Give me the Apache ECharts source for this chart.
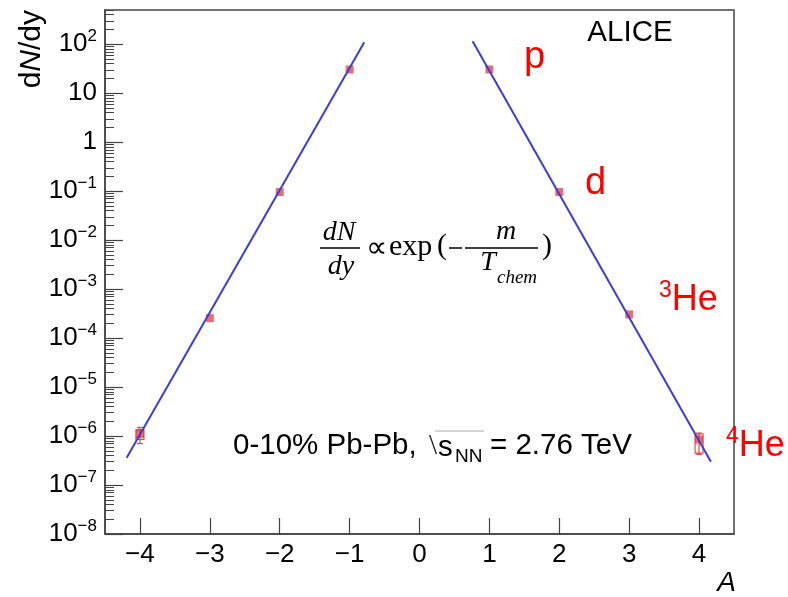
<!DOCTYPE html>
<html><head><meta charset="utf-8">
<script src="https://cdn.jsdelivr.net/npm/echarts@6/dist/echarts.min.js"></script>
<style>html,body{margin:0;padding:0;background:#fff}#chart{width:788px;height:597px}</style>
</head><body><div id="chart"></div>
<script>
// Mass number A (negative = anti-nuclei) and measured dN/dy
const massNumbers = [-4, -3, -2, -1, 1, 2, 3, 4];
const yields = [1.1e-6, 2.55e-4, 0.096, 30.5, 30.5, 0.096, 3.05e-4, 0.85e-6];

// Uncertainties on the (anti-)4He points
const errA = [-4, 4];
const statLow = [0.7e-6, 0.42e-6];
const statHigh = [1.5e-6, 1.15e-6];
const sysLow = [0.85e-6, 0.45e-6];
const sysHigh = [1.35e-6, 1.1e-6];

// Exponential fits (straight lines on the log scale)
const fitLeftA = [-4.19, -0.79];
const fitLeftY = [3.6e-7, 110];
const fitRightA = [0.76, 4.17];
const fitRightY = [115, 3.0e-7];

// Axis ticks
const xTicks = [-4, -3, -2, -1, 0, 1, 2, 3, 4];
const yMajor = [1e-8, 1e-7, 1e-6, 1e-5, 1e-4, 1e-3, 1e-2, 1e-1, 1, 10, 100];
const yMax = 500;
const yMinor = [];
for (let n = -8; n <= 2; n++) {
  for (let k = 2; k <= 9; k++) {
    const v = k * Math.pow(10, n);
    if (v <= yMax) yMinor.push(v);
  }
}

const FONT = 'Liberation Sans';
const SERIF = 'Liberation Serif';
const RED = '#ff0000';
const MARK = 'rgba(225,40,40,0.85)';
const BLUE = '#3c3cd8';

function powLabel(v) {
  const e = Math.round(Math.log10(v));
  if (e === 0) return '{b|1}';
  if (e === 1) return '{b|10}';
  return '{b|10}{s|' + (e < 0 ? '\u2212' + (-e) : e) + '}';
}

function txt(x, y, text, size, opts) {
  return { type: 'text', x: x, y: y, style: Object.assign({
    text: text, fontSize: size, fontFamily: FONT, fill: '#000', align: 'left', verticalAlign: 'middle'
  }, opts || {}) };
}

const chart = echarts.init(document.getElementById('chart'));
chart.setOption({
  animation: false,
  backgroundColor: '#fff',
  grid: { left: 105, right: 54, top: 10, bottom: 63, show: true, borderColor: '#444', borderWidth: 1.5, outerBoundsMode: 'none' },
  xAxis: {
    type: 'value', min: -4.5, max: 4.5,
    splitLine: { show: false },
    axisLine: { onZero: false, lineStyle: { color: '#444', width: 1.5 } },
    axisTick: { inside: true, length: 16, customValues: xTicks, lineStyle: { color: '#444', width: 1.2 } },
    axisLabel: { customValues: xTicks, color: '#000', fontFamily: FONT, fontSize: 26, margin: 8,
      formatter: v => (v < 0 ? '\u2212' + (-v) : '' + v) }
  },
  yAxis: [{
    type: 'log', logBase: 10, min: 1e-8, max: yMax,
    splitLine: { show: false },
    axisLine: { show: true, onZero: false, lineStyle: { color: '#444', width: 1.5 } },
    axisTick: { inside: true, length: 18, customValues: yMajor, lineStyle: { color: '#444', width: 1.2 } },
    axisLabel: { customValues: yMajor, color: '#000', fontFamily: FONT, margin: 8,
      formatter: powLabel,
      rich: {
        b: { fontSize: 26, fontFamily: FONT, color: '#000' },
        s: { fontSize: 17, fontFamily: FONT, color: '#000', padding: [0, 0, 15, 0] }
      } }
  }, {
    type: 'log', logBase: 10, min: 1e-8, max: yMax, position: 'left',
    splitLine: { show: false },
    axisLine: { show: false, onZero: false },
    axisTick: { inside: true, length: 9, customValues: yMinor, lineStyle: { color: '#444', width: 1 } },
    axisLabel: { show: false }
  }],
  series: [
    {
      type: 'custom', z: 3,
      data: errA.map((a, i) => [a, statLow[i], statHigh[i], sysLow[i], sysHigh[i]]),
      renderItem(params, api) {
        const x = api.value(0);
        const lo = api.coord([x, api.value(1)]);
        const hi = api.coord([x, api.value(2)]);
        const bl = api.coord([x, api.value(3)]);
        const bh = api.coord([x, api.value(4)]);
        const st = { stroke: MARK, lineWidth: 1.2, fill: null };
        return { type: 'group', children: [
          { type: 'line', shape: { x1: lo[0], y1: lo[1], x2: hi[0], y2: hi[1] }, style: st },
          { type: 'line', shape: { x1: lo[0] - 3, y1: lo[1], x2: lo[0] + 3, y2: lo[1] }, style: st },
          { type: 'line', shape: { x1: hi[0] - 3, y1: hi[1], x2: hi[0] + 3, y2: hi[1] }, style: st },
          { type: 'rect', shape: { x: bl[0] - 4, y: bh[1], width: 8, height: bl[1] - bh[1] }, style: st }
        ] };
      }
    },
    {
      type: 'scatter', z: 4, symbol: 'rect', symbolSize: 8,
      itemStyle: { color: MARK },
      data: massNumbers.map((a, i) => [a, yields[i]])
    },
    {
      type: 'line', z: 5, showSymbol: false, symbol: 'none',
      lineStyle: { color: BLUE, width: 2 },
      data: fitLeftA.map((a, i) => [a, fitLeftY[i]])
    },
    {
      type: 'line', z: 5, showSymbol: false, symbol: 'none',
      lineStyle: { color: BLUE, width: 2 },
      data: fitRightA.map((a, i) => [a, fitRightY[i]])
    }
  ],
  graphic: [
    // y axis title, reads bottom to top
    { type: 'text', x: 32, y: 10, rotation: Math.PI / 2,
      style: { text: '{a|d}{i|N}{a|/dy}', align: 'right', verticalAlign: 'middle',
        rich: { a: { fontSize: 30, fontFamily: FONT, fill: '#000' }, i: { fontSize: 30, fontFamily: FONT, fontStyle: 'italic', fill: '#000' } } } },
    // x axis title
    txt(736, 583, 'A', 28, { fontStyle: 'italic', align: 'right' }),
    txt(630, 33, 'ALICE', 29.5, { align: 'center' }),
    // species labels
    txt(524, 58, 'p', 38, { fill: RED }),
    txt(585, 184, 'd', 38, { fill: RED }),
    txt(659, 300, '{s|3}{b|He}', 36, { rich: { s: { fontSize: 23, fontFamily: FONT, fill: RED, padding: [0, 0, 19, 0] }, b: { fontSize: 36, fontFamily: FONT, fill: RED } } }),
    txt(726, 446, '{s|4}{b|He}', 36, { rich: { s: { fontSize: 23, fontFamily: FONT, fill: RED, padding: [0, 0, 19, 0] }, b: { fontSize: 36, fontFamily: FONT, fill: RED } } }),
    // collision system and energy
    txt(233, 446, '0-10% Pb-Pb,', 29.5),
    txt(429, 446, '\\', 29, { fontFamily: 'DejaVu Sans ExtraLight', fill: '#222' }),
    { type: 'line', shape: { x1: 435, y1: 431, x2: 484, y2: 431 }, style: { stroke: '#aaa', lineWidth: 1 } },
    txt(438, 448, 's', 29.5),
    txt(455, 457, 'NN', 19),
    txt(490, 446, '= 2.76 TeV', 29.5),
    // dN/dy ∝ exp(−m/T_chem)
    txt(339, 233, 'dN', 28, { fontFamily: SERIF, fontStyle: 'italic', align: 'center' }),
    { type: 'line', shape: { x1: 320, y1: 248, x2: 360, y2: 248 }, style: { stroke: '#000', lineWidth: 1.5 } },
    txt(341, 267, 'dy', 28, { fontFamily: SERIF, fontStyle: 'italic', align: 'center' }),
    txt(376, 249, '\u221D', 30, { fontFamily: SERIF, align: 'center' }),
    txt(389, 247, 'exp', 30, { fontFamily: SERIF }),
    txt(437, 246, '(', 30, { fontFamily: SERIF }),
    { type: 'line', shape: { x1: 449, y1: 248, x2: 462, y2: 248 }, style: { stroke: '#000', lineWidth: 1.5 } },
    { type: 'line', shape: { x1: 465, y1: 248, x2: 538, y2: 248 }, style: { stroke: '#000', lineWidth: 1.5 } },
    txt(506, 232, 'm', 28, { fontFamily: SERIF, fontStyle: 'italic', align: 'center' }),
    txt(488, 263, 'T', 28, { fontFamily: SERIF, fontStyle: 'italic', align: 'center' }),
    txt(497, 278, 'chem', 19, { fontFamily: SERIF, fontStyle: 'italic' }),
    txt(542, 246, ')', 30, { fontFamily: SERIF })
  ]
});
</script></body></html>
